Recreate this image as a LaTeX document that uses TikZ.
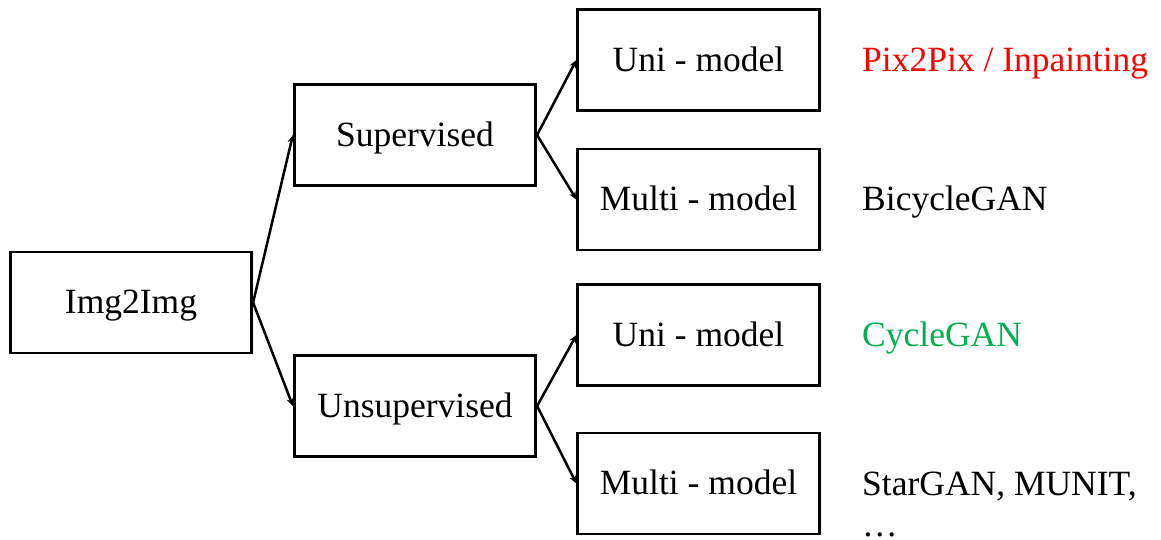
\documentclass[tikz,border=0pt]{standalone}
\usepackage{fontspec}
\setmainfont{Liberation Serif}
\usetikzlibrary{arrows.meta}
\definecolor{labred}{RGB}{255,0,0}
\definecolor{labgreen}{RGB}{0,176,80}
\begin{document}
\begin{tikzpicture}[x=1pt,y=-1pt,
  every node/.style={font=\fontsize{35.5}{41}\selectfont},
  box/.style={draw=black,line width=2.7pt,minimum width=241.5pt,minimum height=101pt,
    inner sep=0pt,text height=22pt,text depth=0pt},
  lab/.style={anchor=west,inner sep=0pt,text height=22pt,text depth=0pt},
  link/.style={line width=2.5pt,-{Stealth[length=8pt,width=7pt]}}]
\useasboundingbox (0,0) rectangle (1161,539);
% category tree
\node[box] (img)  at (131,302.5)  {Img2Img};
\node[box] (sup)  at (415,135)    {Supervised};
\node[box] (uns)  at (415,406)    {Unsupervised};
\node[box] (uni1) at (698.5,60)   {Uni - model};
\node[box] (mul1) at (698.5,199.5){Multi - model};
\node[box] (uni2) at (698.5,335)  {Uni - model};
\node[box] (mul2) at (698.5,483.5){Multi - model};
% example methods
\node[lab,text=labred]   (ex1) at (862,60)    {Pix2Pix / Inpainting};
\node[lab]               (ex2) at (862,199.5) {BicycleGAN};
\node[lab,text=labgreen] (ex3) at (862,335)   {CycleGAN};
\node[anchor=base west,inner sep=0pt,align=left] (ex4) at (862,536) {StarGAN, MUNIT,\\\ldots};
% connectors
\draw[link] (img.east) -- (sup.west);
\draw[link] (img.east) -- (uns.west);
\draw[link] (sup.east) -- (uni1.west);
\draw[link] (sup.east) -- (mul1.west);
\draw[link] (uns.east) -- (uni2.west);
\draw[link] (uns.east) -- (mul2.west);
\end{tikzpicture}
\end{document}
